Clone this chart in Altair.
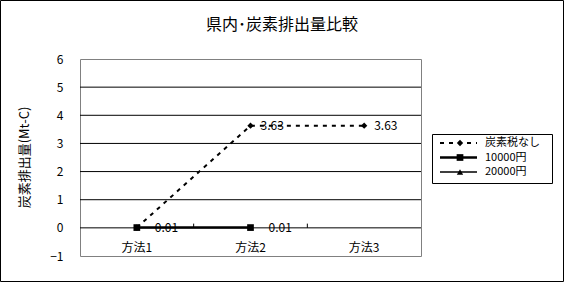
import altair as alt
import pandas as pd

FONT = "Noto Sans CJK JP"

title_text = "県内･炭素排出量比較"
y_title = "炭素排出量(Mt-C)"
categories = ["方法1", "方法2", "方法3"]
series_names = ["炭素税なし", "10000円", "20000円"]
tax_none = [0.01, 3.63, 3.63]
tax_10000 = [0.01, 0.01, None]
tax_20000 = [None, None, None]
show_none = [False, True, True]
show_10000 = [True, True, False]
show_20000 = [False, False, False]
y_ticks = [-1, 0, 1, 2, 3, 4, 5, 6]
grid_vals = [0, 1, 2, 3, 4, 5]
boundary_cats = ["方法2", "方法3"]

rows = []
for name, vals, shows in [(series_names[0], tax_none, show_none),
                          (series_names[1], tax_10000, show_10000),
                          (series_names[2], tax_20000, show_20000)]:
    for c, v, s in zip(categories, vals, shows):
        rows.append({"cat": c, "series": name, "value": v, "show": s})
df = pd.DataFrame(rows)

W, H = 341, 197

xscale = alt.Scale(type="band", domain=categories, paddingInner=0, paddingOuter=0)
yscale = alt.Scale(domain=[-1, 6], nice=False, zero=False)

x_axis = alt.Axis(title=None, orient="bottom", offset=-16, domain=False, ticks=False,
                  labelPadding=2, labelAngle=0, labelFont=FONT, labelFontSize=12,
                  labelColor="black", labelBaseline="top", grid=False, labelOverlap=False)
y_axis = alt.Axis(title=None, values=y_ticks, grid=False, domain=False, ticks=False,
                  labelPadding=17, labelFont=FONT, labelFontSize=12, labelColor="black",
                  format="d", labelOverlap=False, labelBound=False)

def xe(band=0.5):
    return alt.X("cat:N", sort=categories, scale=xscale, axis=x_axis, bandPosition=band)

def ye(field="value"):
    return alt.Y(f"{field}:Q", scale=yscale, axis=y_axis)

grid = alt.Chart(pd.DataFrame({"g": grid_vals})).mark_rule(color="black", strokeWidth=1).encode(
    y=ye("g")
)

ticks = alt.Chart(pd.DataFrame({"cat": boundary_cats, "t0": [0, 0], "t1": [0.15, 0.15]})).mark_rule(
    color="black", strokeWidth=1).encode(
    x=xe(0), y=ye("t0"), y2="t1:Q"
)

d_none = df[df.series == series_names[0]]
d_10k = df[df.series == series_names[1]]
d_20k = df[df.series == series_names[2]].dropna()

line_none = alt.Chart(d_none).mark_line(color="black", strokeWidth=2, strokeDash=[4, 5]).encode(
    x=xe(), y=ye())
pt_none = alt.Chart(d_none).mark_point(shape="diamond", filled=True, color="black", size=40, opacity=1).encode(
    x=xe(), y=ye())
line_10k = alt.Chart(d_10k.dropna()).mark_line(color="black", strokeWidth=2.5).encode(
    x=xe(), y=ye())
pt_10k = alt.Chart(d_10k.dropna()).mark_point(shape="square", filled=True, color="black", size=45, opacity=1).encode(
    x=xe(), y=ye())

lab_none = alt.Chart(d_none[d_none.show]).mark_text(
    align="left", baseline="middle", dx=10, font=FONT, fontSize=12, color="black").encode(
    x=xe(), y=ye(), text=alt.Text("value:Q", format=".2f"))
lab_10k = alt.Chart(d_10k[d_10k.show]).mark_text(
    align="left", baseline="middle", dx=18, font=FONT, fontSize=12, color="black").encode(
    x=xe(), y=ye(), text=alt.Text("value:Q", format=".2f"))

layers = [grid, ticks, line_none, line_10k, pt_10k, pt_none, lab_none, lab_10k]

if len(d_20k):
    layers.append(alt.Chart(d_20k).mark_line(color="black", strokeWidth=1.5).encode(x=xe(), y=ye()))
    layers.append(alt.Chart(d_20k).mark_point(shape="triangle-up", filled=True, color="black", size=40, opacity=1).encode(x=xe(), y=ye()))

# title
layers.append(alt.Chart(pd.DataFrame({"t": [title_text]})).mark_text(
    font=FONT, fontSize=16, color="black", align="center", baseline="middle").encode(
    x=alt.value(202), y=alt.value(-34), text="t:N"))
# y title
layers.append(alt.Chart(pd.DataFrame({"t": [y_title]})).mark_text(
    font=FONT, fontSize=13, color="black", align="center", baseline="middle", angle=270).encode(
    x=alt.value(-55), y=alt.value(98.5), text="t:N"))

# outer border
layers.append(alt.Chart(pd.DataFrame({"a": [0]})).mark_rect(fill="transparent", stroke="black", strokeWidth=1).encode(
    x=alt.value(-79.5), x2=alt.value(483.5), y=alt.value(-58.5), y2=alt.value(222.5)))

# legend
layers.append(alt.Chart(pd.DataFrame({"a": [0]})).mark_rect(fill="white", stroke="black", strokeWidth=1).encode(
    x=alt.value(352.5), x2=alt.value(472.5), y=alt.value(75.5), y2=alt.value(124.5)))
leg_styles = [
    dict(dash=[4, 5], width=2, shape="diamond", size=40),
    dict(dash=[1, 0], width=2.5, shape="square", size=45),
    dict(dash=[1, 0], width=1.5, shape="triangle-up", size=40),
]
leg_y = [84, 98.5, 113]
for name, st, yy in zip(series_names, leg_styles, leg_y):
    ldf = pd.DataFrame({"name": [name]})
    layers.append(alt.Chart(ldf).mark_rule(color="black", strokeWidth=st["width"], strokeDash=st["dash"]).encode(
        x=alt.value(360), x2=alt.value(397), y=alt.value(yy)))
    layers.append(alt.Chart(ldf).mark_point(shape=st["shape"], filled=True, color="black", size=st["size"], opacity=1).encode(
        x=alt.value(380), y=alt.value(yy)))
    layers.append(alt.Chart(ldf).mark_text(font=FONT, fontSize=11, color="black", align="left", baseline="middle").encode(
        x=alt.value(405), y=alt.value(yy), text="name:N"))

chart = alt.layer(*layers).properties(
    width=W, height=H,
    autosize=alt.AutoSizeParams(type="none"),
    padding={"left": 80, "top": 59, "right": 143, "bottom": 26},
    background="white",
).configure_view(stroke="#808080", strokeWidth=1).configure_axis(labelOverlap=False)

chart.save("out.html", embed_options={"renderer": "svg", "actions": False})
